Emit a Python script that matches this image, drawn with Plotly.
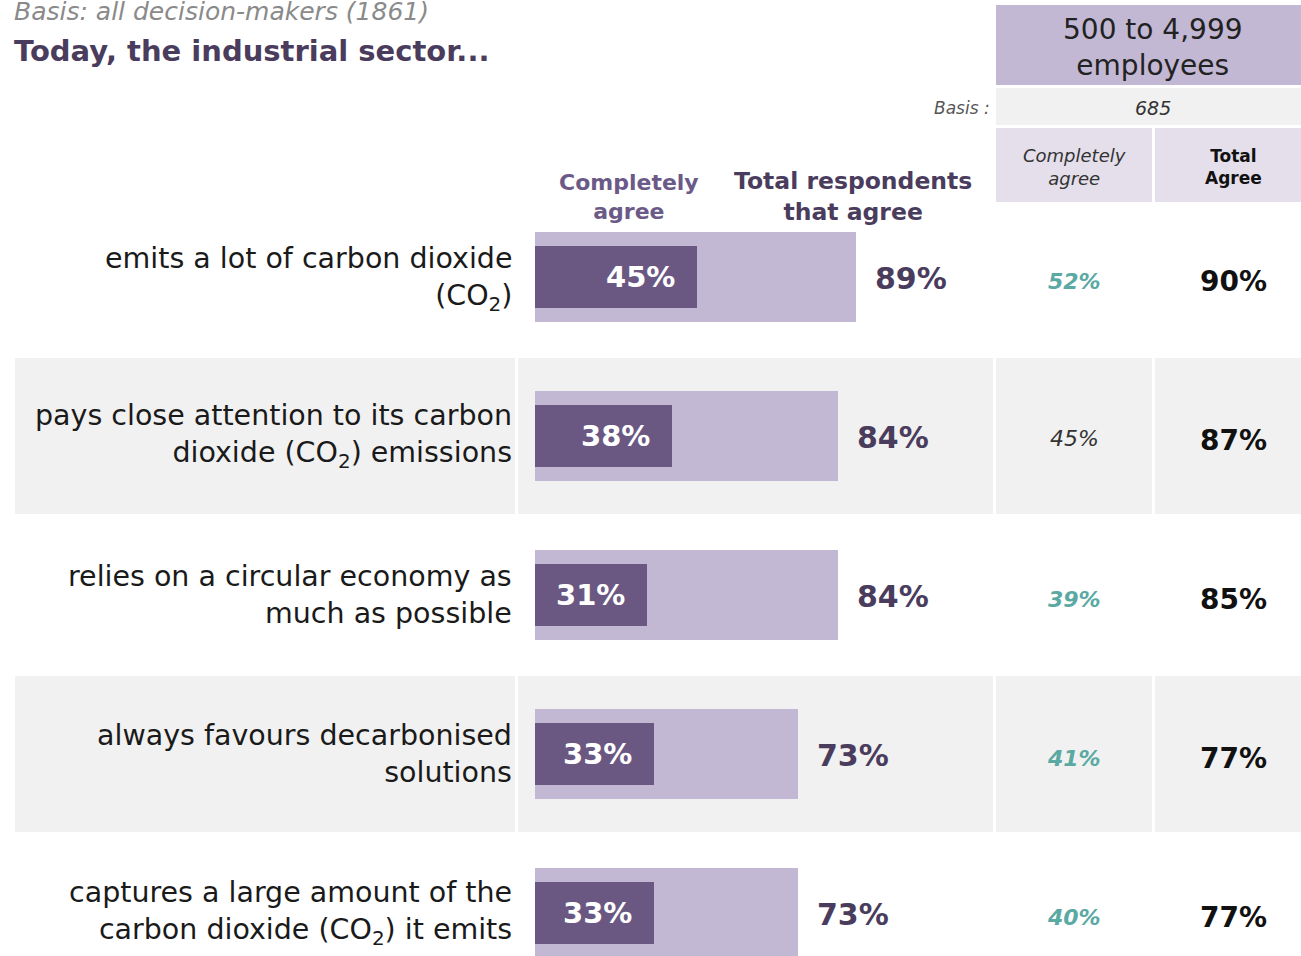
import plotly.graph_objects as go

# ---------------- data ----------------
row_labels = ["emits a lot of carbon dioxide<br>(CO<sub>2</sub>)",
              "pays close attention to its carbon<br>dioxide (CO<sub>2</sub>) emissions",
              "relies on a circular economy as<br>much as possible",
              "always favours decarbonised<br>solutions",
              "captures a large amount of the<br>carbon dioxide (CO<sub>2</sub>) it emits"]
completely_agree = [45, 38, 31, 33, 33]
total_agree = [89, 84, 84, 73, 73]
seg_completely = [52, 45, 39, 41, 40]
seg_total = [90, 87, 85, 77, 77]
seg_highlight = [True, False, True, True, True]

title_basis = "Basis: all decision-makers (1861)"
title_main = "Today, the industrial sector..."
header_complete = "Completely<br>agree"
header_total = "Total respondents<br>that agree"
segment_name = "500 to 4,999<br>employees"
segment_basis_label = "Basis :"
segment_basis = "685"
sub_complete = "Completely<br>agree"
sub_total = "Total<br>Agree"

# ---------------- style ----------------
W, H = 1301, 956
FONT = "DejaVu Sans"
LIGHT = "#c3b8d3"
DARK = "#6a5883"
DARKTXT = "#4a3c5d"
GRAY = "#f1f1f1"
SUBHDR = "#e4dfeb"
TEAL = "#5aa9a3"

def px(x):
    return x / W

def py(y):
    return 1 - y / H

rows = list(range(len(completely_agree)))
row0, step = 277, 159
y_top = (0 - row0) / step
y_bot = (H - row0) / step

fig = go.Figure()
fig.add_trace(go.Bar(orientation="h", y=rows, x=total_agree, width=0.56,
                     marker=dict(color=LIGHT, line=dict(width=0)),
                     hoverinfo="skip", showlegend=False))
fig.add_trace(go.Bar(orientation="h", y=rows, x=completely_agree, width=0.396,
                     marker=dict(color=DARK, line=dict(width=0)),
                     hoverinfo="skip", showlegend=False))

shapes = []
half = 0.4906
cols = [(15, 515), (518, 993), (996, 1152), (1155, 1301)]
for i in rows:
    if i % 2 == 1:
        for (a, b) in cols:
            shapes.append(dict(type="rect", xref="paper", yref="y",
                               x0=px(a), x1=px(b), y0=i - half, y1=i + half,
                               fillcolor=GRAY, line=dict(width=0), layer="below"))
# header cells
shapes.append(dict(type="rect", xref="paper", yref="paper", x0=px(996), x1=px(1301),
                   y0=py(85), y1=py(5), fillcolor=LIGHT, line=dict(width=0), layer="below"))
shapes.append(dict(type="rect", xref="paper", yref="paper", x0=px(996), x1=px(1301),
                   y0=py(125), y1=py(88), fillcolor=GRAY, line=dict(width=0), layer="below"))
for (a, b) in [(996, 1152), (1155, 1301)]:
    shapes.append(dict(type="rect", xref="paper", yref="paper", x0=px(a), x1=px(b),
                       y0=py(202), y1=py(128), fillcolor=SUBHDR, line=dict(width=0), layer="below"))

ann = []
def txt(x, y, text, size, color, xanchor="center", xref="paper", yref="paper",
        xshift=0, yshift=0, bold=False, italic=False, align="center"):
    ann.append(dict(x=x, y=y, xref=xref, yref=yref, text=text, showarrow=False,
                    xanchor=xanchor, yanchor="middle", xshift=xshift, yshift=yshift,
                    align=align, borderpad=0,
                    font=dict(family=FONT, size=size, color=color,
                              weight="bold" if bold else "normal",
                              style="italic" if italic else "normal")))

# titles
txt(px(13), py(12), title_basis, 25, "#8a8a8a", xanchor="left", italic=True, align="left")
txt(px(13), py(51), title_main, 29, DARKTXT, xanchor="left", bold=True, align="left")

# column headers
txt(px(629), py(197), header_complete, 22, "#6b5a87", bold=True)
txt(px(853), py(196), header_total, 23.5, DARKTXT, bold=True)

# segment header
txt(px(1153), py(47), segment_name, 28, "#222222")
txt(px(991), py(108), segment_basis_label, 17, "#555555", xanchor="right", italic=True)
txt(px(1153), py(108), segment_basis, 19, "#333333", italic=True)
txt(px(1074), py(167), sub_complete, 18, "#333333", italic=True)
txt(px(1233), py(167), sub_total, 17, "#111111", bold=True)

for i in rows:
    # row labels
    txt(px(513), i, row_labels[i], 28.5, "#1a1a1a", xanchor="right", yref="y",
        yshift=(-2 if i == 0 else 0), align="right")
    # bar labels
    txt(completely_agree[i], i, f"{completely_agree[i]}%", 29, "white", xanchor="right",
        xref="x", yref="y", xshift=-21, bold=True)
    txt(total_agree[i], i, f"{total_agree[i]}%", 30, DARKTXT, xanchor="left",
        xref="x", yref="y", xshift=18, bold=True, yshift=-1)
    # segment columns
    if seg_highlight[i]:
        txt(px(1074), i, f"{seg_completely[i]}%", 22, TEAL, yref="y", bold=True, italic=True, yshift=-4)
    else:
        txt(px(1074), i, f"{seg_completely[i]}%", 22, "#333333", yref="y", italic=True, yshift=-2)
    txt(px(1233), i, f"{seg_total[i]}%", 28, "#111111", yref="y", bold=True, yshift=-4)

fig.update_layout(
    width=W, height=H,
    margin=dict(l=0, r=0, t=0, b=0),
    paper_bgcolor="white", plot_bgcolor="rgba(0,0,0,0)",
    barmode="overlay", bargap=0,
    xaxis=dict(domain=[px(535), px(535 + 360.7)], range=[0, 100], visible=False, fixedrange=True),
    yaxis=dict(domain=[0, 1], range=[y_bot, y_top], visible=False, fixedrange=True),
    shapes=shapes, annotations=ann,
)
fig.write_html("out.html", config={"displayModeBar": False},
               post_script="document.body.style.margin='0px';document.body.style.overflow='hidden';")
